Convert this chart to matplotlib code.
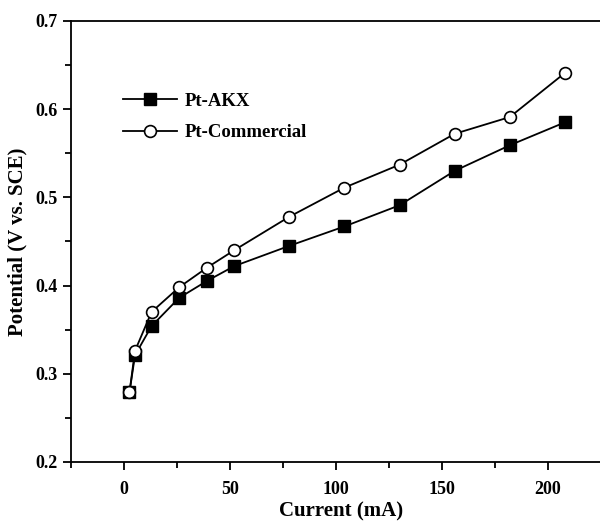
import matplotlib
matplotlib.use("Agg")
import matplotlib.pyplot as plt
from matplotlib.ticker import MultipleLocator

plt.rcParams["font.family"] = ["Liberation Serif", "DejaVu Serif"]
plt.rcParams["font.weight"] = "bold"

# current (mA) and potential (V vs. SCE)
current = [2.6, 5.2, 13, 26, 39, 52, 78, 104, 130, 156, 182, 208]
pt_akx = [0.279, 0.321, 0.354, 0.386, 0.405, 0.422, 0.445, 0.467, 0.491, 0.530, 0.559, 0.585]
pt_commercial = [0.279, 0.326, 0.370, 0.398, 0.420, 0.440, 0.478, 0.511, 0.537, 0.572, 0.591, 0.641]

fig = plt.figure(figsize=(6, 5.22), dpi=100)
# axes run past the right edge, as in the cropped original
ax = fig.add_axes([0.1183, 0.115, 0.901, 0.845])

ax.plot(current, pt_akx, "-s", color="black", lw=1.3, ms=8,
        mfc="black", mec="black", label="Pt-AKX", zorder=3)
ax.plot(current, pt_commercial, "-o", color="black", lw=1.3, ms=8.5,
        mfc="white", mec="black", mew=1.2, label="Pt-Commercial", zorder=4)

ax.set_xlim(-25, 230)
ax.set_ylim(0.2, 0.7)
ax.xaxis.set_major_locator(MultipleLocator(50))
ax.xaxis.set_minor_locator(MultipleLocator(25))
ax.yaxis.set_major_locator(MultipleLocator(0.1))
ax.yaxis.set_minor_locator(MultipleLocator(0.05))
ax.tick_params(which="major", direction="out", length=6, width=1.3, labelsize=13)
ax.tick_params(which="minor", direction="out", length=4, width=1.3)
ax.tick_params(axis="x", pad=8)
for s in ax.spines.values():
    s.set_linewidth(1.3)

ax.set_xlabel("Current (mA)", fontsize=15, fontweight="bold", labelpad=2)
ax.set_ylabel("Potential (V vs. SCE)", fontsize=15, fontweight="bold", labelpad=6)

ax.legend(loc="upper left", bbox_to_anchor=(0.065, 0.875), frameon=False,
          handlelength=2.9, handletextpad=0.4, labelspacing=0.75,
          prop={"weight": "bold", "size": 13.5})

fig.savefig("out.png", dpi=100)
